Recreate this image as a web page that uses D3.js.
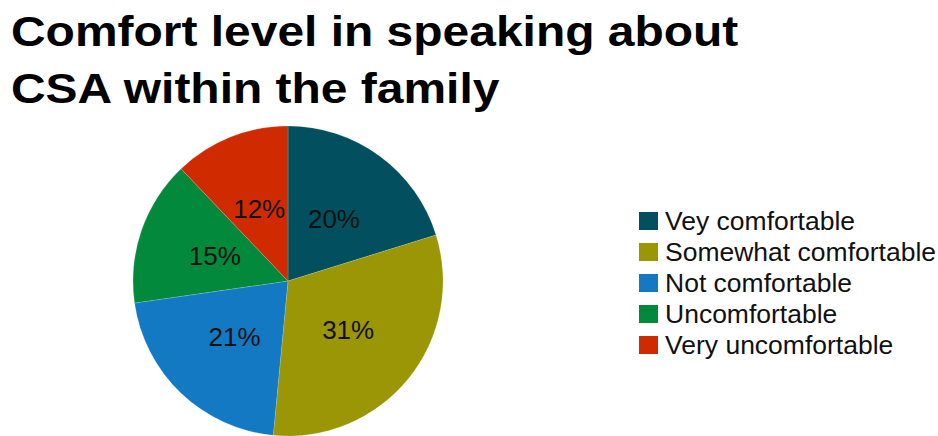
<!DOCTYPE html>
<html>
<head>
<meta charset="utf-8">
<script src="https://cdn.jsdelivr.net/npm/d3@7"></script>
<style>
  html, body { margin: 0; padding: 0; background: #fff; }
  svg { display: block; }
  text { font-family: "Liberation Sans", Arial, Helvetica, sans-serif; }
</style>
</head>
<body>
<svg id="chart" width="938" height="436"></svg>
<script>
// Survey answers: comfort level in speaking about CSA within the family
const categories = ["Vey comfortable", "Somewhat comfortable", "Not comfortable", "Uncomfortable", "Very uncomfortable"];
const shares = [20, 31, 21, 15, 12];
const sliceColors = ["#02505f", "#9b9606", "#1479c3", "#02893c", "#d02b00"];
const titleLines = ["Comfort level in speaking about", "CSA within the family"];

const svg = d3.select("#chart");
const width = 938, height = 436;

svg.append("rect").attr("width", width).attr("height", height).attr("fill", "#fff");

// Stretch a text element horizontally by a factor
function widen(sel, factor) {
  sel.each(function () {
    const w = this.getComputedTextLength();
    d3.select(this).attr("textLength", w * factor).attr("lengthAdjust", "spacingAndGlyphs");
  });
}

// Title, two bold lines
const titleG = svg.append("g");
titleLines.forEach((line, i) => {
  const t = titleG.append("text")
    .attr("x", 11)
    .attr("y", 46 + i * 57)
    .attr("font-size", 43)
    .attr("font-weight", "bold")
    .attr("fill", "#000")
    .text(line);
  widen(t, 1.115);
});

// Pie
const cx = 288, cy = 281, radius = 155;
const color = d3.scaleOrdinal().domain(categories).range(sliceColors);
const data = categories.map((c, i) => ({ cat: c, value: shares[i] }));
const pie = d3.pie().value(d => d.value).sort(null);
const arc = d3.arc().innerRadius(0).outerRadius(radius);
const labelArc = d3.arc().innerRadius(radius * 0.5).outerRadius(radius * 0.5);

const pg = svg.append("g").attr("transform", `translate(${cx},${cy})`);
const arcs = pie(data);
pg.selectAll("path.slice")
  .data(arcs)
  .join("path")
  .attr("class", "slice")
  .attr("d", arc)
  .attr("fill", d => color(d.data.cat))
  .attr("stroke", "rgba(255,255,255,0.25)")
  .attr("stroke-width", 0.6);

pg.selectAll("text.lbl")
  .data(arcs)
  .join("text")
  .attr("class", "lbl")
  .attr("transform", d => `translate(${labelArc.centroid(d)})`)
  .attr("text-anchor", "middle")
  .attr("dy", "0.36em")
  .attr("font-size", 26)
  .attr("fill", "#111")
  .text(d => d.data.value + "%");

// Legend
const lg = svg.append("g").attr("transform", "translate(639,212)");
const rows = lg.selectAll("g.row")
  .data(categories)
  .join("g")
  .attr("class", "row")
  .attr("transform", (d, i) => `translate(0,${i * 31})`);
rows.append("rect")
  .attr("width", 19).attr("height", 18)
  .attr("fill", d => color(d));
rows.append("text")
  .attr("x", 26)
  .attr("y", 18)
  .attr("font-size", 25)
  .attr("fill", "#111")
  .text(d => d)
  .call(widen, 1.06);
</script>
</body>
</html>
